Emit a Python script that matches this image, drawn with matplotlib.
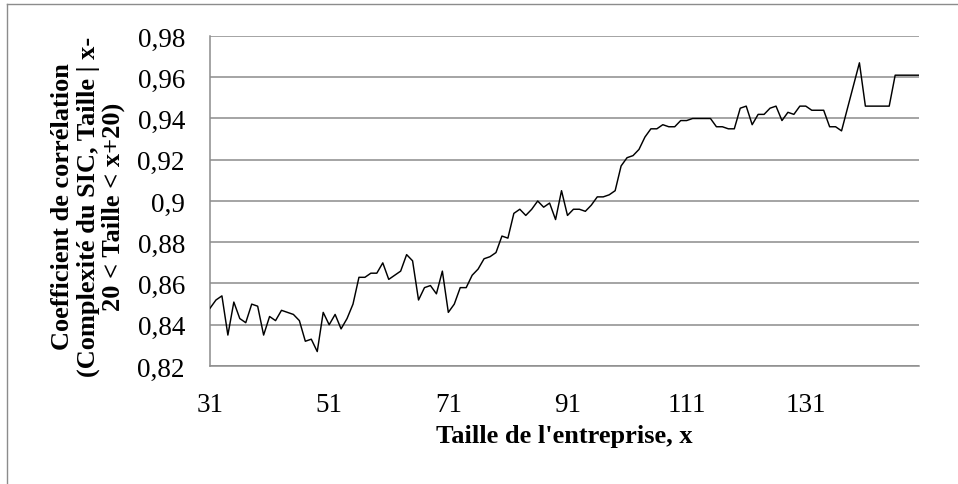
import matplotlib
matplotlib.use("Agg")
import matplotlib.pyplot as plt
from matplotlib.lines import Line2D
from matplotlib.ticker import FuncFormatter

# Data
taille = list(range(31, 151))
correlation = [
    0.848, 0.852, 0.854, 0.835, 0.851, 0.843, 0.841, 0.850, 0.849, 0.835,   # 31-40
    0.844, 0.842, 0.847, 0.846, 0.845, 0.842, 0.832, 0.833, 0.827, 0.846,   # 41-50
    0.840, 0.845, 0.838, 0.843, 0.850, 0.863, 0.863, 0.865, 0.865, 0.870,   # 51-60
    0.862, 0.864, 0.866, 0.874, 0.871, 0.852, 0.858, 0.859, 0.855, 0.866,   # 61-70
    0.846, 0.850, 0.858, 0.858, 0.864, 0.867, 0.872, 0.873, 0.875, 0.883,   # 71-80
    0.882, 0.894, 0.896, 0.893, 0.896, 0.900, 0.897, 0.899, 0.891, 0.905,   # 81-90
    0.893, 0.896, 0.896, 0.895, 0.898, 0.902, 0.902, 0.903, 0.905, 0.917,   # 91-100
    0.921, 0.922, 0.925, 0.931, 0.935, 0.935, 0.937, 0.936, 0.936, 0.939,   # 101-110
    0.939, 0.940, 0.940, 0.940, 0.940, 0.936, 0.936, 0.935, 0.935, 0.945,   # 111-120
    0.946, 0.937, 0.942, 0.942, 0.945, 0.946, 0.939, 0.943, 0.942, 0.946,   # 121-130
    0.946, 0.944, 0.944, 0.944, 0.936, 0.936, 0.934, 0.945, 0.956, 0.967,   # 131-140
    0.946, 0.946, 0.946, 0.946, 0.946, 0.961, 0.961, 0.961, 0.961, 0.961,   # 141-150
]
x_ticks = [31, 51, 71, 91, 111, 131]
y_ticks = [0.82, 0.84, 0.86, 0.88, 0.90, 0.92, 0.94, 0.96, 0.98]

x_label = "Taille de l'entreprise, x"
y_label = "Coefficient de corrélation\n(Complexité du SIC, Taille | x-\n20 < Taille < x+20)"

plt.rcParams['font.family'] = ['Liberation Serif', 'DejaVu Serif']

W, H = 958, 485
fig = plt.figure(figsize=(W / 100, H / 100), dpi=100)
fig.patch.set_facecolor('white')

L, R, T, B = 210, 919, 37, 367
ax = fig.add_axes([L / W, 1 - B / H, (R - L) / W, (B - T) / H])

ax.plot(taille, correlation, color='black', linewidth=1.05, zorder=3)

ax.set_xlim(31, 150)
ax.set_ylim(0.82, 0.98)
ax.set_xticks(x_ticks)
ax.set_yticks(y_ticks)


def fmt(v, pos):
    s = ('%.2f' % v).rstrip('0').rstrip('.')
    return s.replace('.', ',')


ax.yaxis.set_major_formatter(FuncFormatter(fmt))
ax.tick_params(axis='both', length=0, labelsize=19.5, colors='black')
ax.tick_params(axis='y', pad=18)
ax.tick_params(axis='x', pad=19)

grid_c = '#8c8c8c'
ax.grid(axis='y', color=grid_c, linewidth=1.1, zorder=1)
ax.set_axisbelow(True)
for side in ['top', 'right']:
    ax.spines[side].set_visible(False)
for side in ['left', 'bottom']:
    ax.spines[side].set_color(grid_c)
    ax.spines[side].set_linewidth(1.1)

ax.set_xlabel(x_label, fontsize=19, fontweight='bold', labelpad=5)
fig.text(88 / W, 1 - 207 / H, y_label, rotation=90, fontsize=19,
         fontweight='bold', ha='center', va='center', ma='center',
         linespacing=1.12)

# outer chart frame
frame_c = '#8c8c8c'
fig.add_artist(Line2D([7 / W, 1.0], [1 - 5 / H, 1 - 5 / H], color=frame_c,
                      linewidth=1.0, transform=fig.transFigure))
fig.add_artist(Line2D([7 / W, 7 / W], [0.0, 1 - 5 / H], color=frame_c,
                      linewidth=1.0, transform=fig.transFigure))

fig.savefig('out.png', dpi=100)
